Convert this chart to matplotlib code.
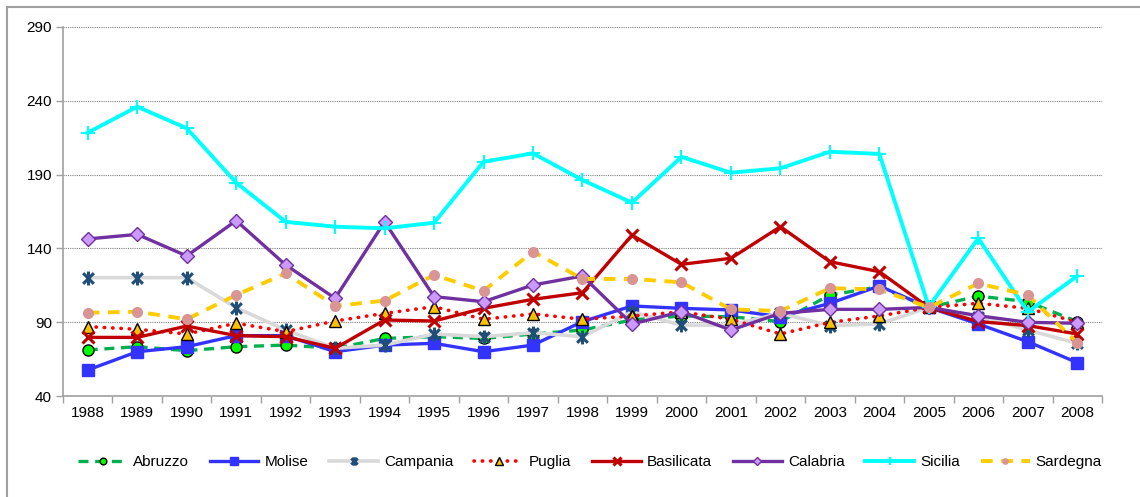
import matplotlib
matplotlib.use("Agg")
import matplotlib.pyplot as plt
from matplotlib.lines import Line2D
from matplotlib.path import Path
import numpy as np

years = [str(y) for y in range(1988, 2009)]

abruzzo    = [71.2, 73.4, 70.7, 73.4, 74.5, 72.3, 79.0, 80.2, 79.0, 82.0, 84.7, 91.5, 94.2, 93.7, 90.4, 108.4, 114.0, 100, 107.7, 103.9, 90.4]
molise     = [57.6, 70.0, 73.4, 80.9, 80.9, 70.0, 74.5, 75.7, 70.0, 74.5, 90.4, 101.0, 99.4, 98.3, 93.7, 102.8, 114.5, 100, 88.8, 76.8, 62.6]
campania   = [120.2, 120.2, 120.2, 99.8, 84.7, 72.3, 74.5, 82.0, 80.2, 82.9, 80.2, 97.0, 88.0, 88.0, 96.0, 87.7, 88.8, 100, 93.7, 84.7, 75.7]
puglia     = [87.0, 85.2, 82.0, 89.3, 83.6, 90.8, 96.0, 100.5, 92.0, 95.6, 92.0, 94.2, 97.0, 92.0, 82.0, 89.9, 94.2, 100, 102.8, 99.4, 90.0]
basilicata = [79.7, 79.7, 87.4, 80.9, 80.2, 72.3, 91.5, 90.8, 99.4, 105.5, 110.0, 149.0, 129.2, 133.3, 154.7, 131.0, 124.2, 100, 90.4, 87.7, 82.0]
calabria   = [146.4, 149.5, 134.9, 158.8, 128.8, 106.2, 158.0, 107.3, 103.9, 115.2, 121.3, 88.8, 97.1, 84.7, 96.0, 98.7, 98.7, 100, 94.4, 89.9, 89.3]
sicilia    = [218.4, 236.0, 221.4, 184.5, 158.0, 154.7, 153.6, 157.4, 198.7, 204.4, 186.3, 171.0, 202.0, 191.3, 194.3, 205.5, 204.0, 100.5, 146.8, 97.0, 121.3]
sardegna   = [96.4, 97.1, 92.0, 108.4, 123.1, 101.0, 104.6, 122.0, 111.3, 137.8, 119.3, 119.3, 117.0, 98.7, 97.6, 113.0, 112.3, 100, 116.3, 108.4, 76.1]

yticks = [40, 90, 140, 190, 240, 290]

plt.rcParams['font.family'] = ['Liberation Sans', 'DejaVu Sans']

fig = plt.figure(figsize=(11.4, 4.97), dpi=100)
ax = fig.add_axes([63/1140, 101/497, (1102-63)/1140, (396-27)/497])

x = np.arange(len(years))

# asterisk marker: X plus vertical bar
star = Path([(-1, -1), (1, 1), (-1, 1), (1, -1), (0, -1.3), (0, 1.3)],
            [Path.MOVETO, Path.LINETO, Path.MOVETO, Path.LINETO, Path.MOVETO, Path.LINETO])

series = [
    ("Abruzzo", abruzzo, dict(color="#00B050", lw=2.4, ls=(0, (3, 2)), marker="o", ms=8,
                              mfc="#00FF00", mec="black", mew=1.0)),
    ("Molise", molise, dict(color="#3333FF", lw=2.4, ls="-", marker="s", ms=8.5,
                            mfc="#3333FF", mec="#3333FF")),
    ("Campania", campania, dict(color="#D9D9D9", lw=2.6, ls="-", marker=star, ms=10,
                                mfc="#1F4E79", mec="#1F4E79", mew=2.2)),
    ("Puglia", puglia, dict(color="#FF0000", lw=2.6, ls=(0, (0.1, 2.2)), dash_capstyle="round",
                            marker="^", ms=8.5, mfc="#FFC000", mec="black", mew=1.0)),
    ("Basilicata", basilicata, dict(color="#C00000", lw=2.4, ls="-", marker="x", ms=9,
                                    mfc="#C00000", mec="#C00000", mew=2.2)),
    ("Calabria", calabria, dict(color="#7030A0", lw=2.4, ls="-", marker="D", ms=7.5,
                                mfc="#CC99FF", mec="#7030A0", mew=1.0)),
    ("Sicilia", sicilia, dict(color="#00FFFF", lw=2.8, ls="-", marker="+", ms=10,
                              mfc="#00FFFF", mec="#00FFFF", mew=1.5)),
    ("Sardegna", sardegna, dict(color="#FFCC00", lw=2.8, ls=(0, (3, 2.2)), marker="o", ms=8,
                                mfc="#D99594", mec="#D99594", mew=0)),
]

handles = []
for i, (name, vals, st) in enumerate(series):
    ln, = ax.plot(x, vals, label=name, zorder=3 + i, clip_on=False, **st)
    handles.append(ln)

ax.set_xlim(-0.5, len(years) - 0.5)
ax.set_ylim(40, 290)
ax.set_yticks(yticks)
ax.set_xticks(x)
ax.set_xticklabels(years)
ax.set_xticks(np.arange(-0.5, len(years), 1.0), minor=True)
ax.tick_params(axis='x', which='major', length=0, pad=7, labelsize=11, colors='black')
ax.tick_params(axis='x', which='minor', length=5, width=1, color='#A0A0A0', direction='out')
ax.tick_params(axis='y', length=5, width=1, color='#A0A0A0', labelsize=11, pad=3)

for s in ['top', 'right']:
    ax.spines[s].set_visible(False)
for s in ['left', 'bottom']:
    ax.spines[s].set_color('#A0A0A0')
    ax.spines[s].set_linewidth(1.2)

ax.yaxis.grid(True, ls=(0, (1, 1)), color='#808080', lw=0.8)
ax.set_axisbelow(True)

leg = fig.legend(handles=handles, loc='center', bbox_to_anchor=(590/1140, 35/497), ncol=8,
                 frameon=False, fontsize=11, handlelength=3.2, handletextpad=0.4,
                 columnspacing=1.35, markerscale=0.6)

# outer frame (top and left edges visible)
fig.add_artist(Line2D([7/1140, 1.0], [1 - 7/497, 1 - 7/497], color='#A0A0A0', lw=1.5))
fig.add_artist(Line2D([7/1140, 7/1140], [0, 1 - 7/497], color='#A0A0A0', lw=1.5))

fig.savefig("out.png", dpi=100)
